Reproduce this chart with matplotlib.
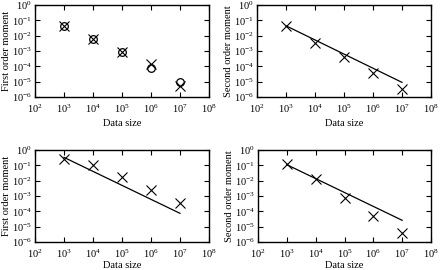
import numpy as np
import matplotlib
matplotlib.use("Agg")
import matplotlib.pyplot as plt

plt.rcParams["font.family"] = ["Liberation Serif", "DejaVu Serif"]
plt.rcParams["mathtext.fontset"] = "stix"

# -----------------------------------------------------------
# Data
# -----------------------------------------------------------
sizes = [1e3, 1e4, 1e5, 1e6, 1e7]

# top-left: first order moment, two estimators
tl_cross = [4e-2, 6e-3, 8e-4, 1.5e-4, 5e-6]
tl_circle = [4e-2, 6e-3, 8e-4, 8e-5, 9e-6]

# top-right: second order moment with fitted line
tr_cross = [4e-2, 3.5e-3, 4e-4, 3.6e-5, 3.3e-6]
tr_line = [4.4e-2, 9e-6]

# bottom-left: first order moment with fitted line
bl_cross = [2.7e-1, 1e-1, 1.8e-2, 2.6e-3, 3.5e-4]
bl_line = [3.3e-1, 7.4e-5]

# bottom-right: second order moment with fitted line
br_cross = [1.2e-1, 1.35e-2, 7.4e-4, 5e-5, 4e-6]
br_line = [1.1e-1, 2.6e-5]

line_x = [1e3, 1e7]

# -----------------------------------------------------------
# Figure and axes placed in pixel terms
# -----------------------------------------------------------
W, H = 443, 270
fig = plt.figure(figsize=(W / 100, H / 100), dpi=100)


def make_ax(left, top, right, bottom):
    return fig.add_axes([left / W, 1 - bottom / H, (right - left) / W, (bottom - top) / H])


ax_tl = make_ax(35, 5, 209, 97)
ax_tr = make_ax(257, 5, 431, 97)
ax_bl = make_ax(35, 150, 209, 242)
ax_br = make_ax(258, 150, 431, 242)


def style(ax, ylabel, xpad=3):
    ax.set_xscale("log")
    ax.set_yscale("log")
    ax.set_xlim(1e2, 1e8)
    ax.set_ylim(1e-6, 1e0)
    ax.set_xticks([10.0 ** k for k in range(2, 9)])
    ax.set_yticks([10.0 ** k for k in range(-6, 1)])
    ax.tick_params(which="both", direction="in", top=True, right=True,
                   labelsize=7.5, width=0.8)
    ax.tick_params(axis="x", which="major", pad=4)
    ax.tick_params(axis="y", which="major", pad=2)
    ax.tick_params(which="major", length=3.5)
    ax.tick_params(which="minor", length=1.8)
    ax.set_xlabel("Data size", fontsize=7.5, labelpad=xpad)
    ax.set_ylabel(ylabel, fontsize=7.5, labelpad=1)
    for s in ax.spines.values():
        s.set_linewidth(1.0)


cross_kw = dict(marker="x", linestyle="none", color="black", markersize=6.5, markeredgewidth=0.8)

ax_tl.plot(sizes, tl_cross, **cross_kw)
ax_tl.plot(sizes, tl_circle, marker="o", linestyle="none", markerfacecolor="none",
           markeredgecolor="black", markersize=5.5, markeredgewidth=0.9)
style(ax_tl, "First order moment")

ax_tr.plot(sizes, tr_cross, **cross_kw)
ax_tr.plot(line_x, tr_line, color="black", linewidth=0.9)
style(ax_tr, "Second order moment")

ax_bl.plot(sizes, bl_cross, **cross_kw)
ax_bl.plot(line_x, bl_line, color="black", linewidth=0.9)
style(ax_bl, "First order moment", xpad=1)

ax_br.plot(sizes, br_cross, **cross_kw)
ax_br.plot(line_x, br_line, color="black", linewidth=0.9)
style(ax_br, "Second order moment", xpad=1)

fig.savefig("out.png", dpi=100)
